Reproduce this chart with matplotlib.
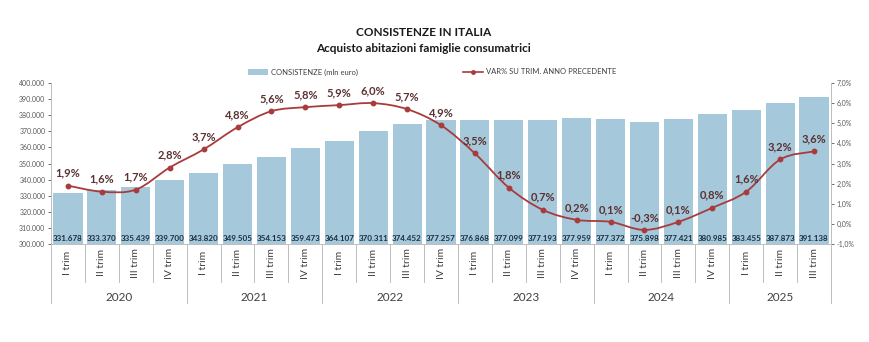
import matplotlib
matplotlib.use("Agg")
import matplotlib.pyplot as plt
from matplotlib.path import Path
from matplotlib.patches import PathPatch, Patch
from matplotlib.lines import Line2D
import matplotlib.ticker as ticker
import matplotlib.transforms as mtransforms

plt.rcParams["font.family"] = ["Lato", "DejaVu Sans"]

# dati
anni = ["2020", "2021", "2022", "2023", "2024", "2025"]
trimestri = ["I trim", "II trim", "III trim", "IV trim"] * 5 + ["I trim", "II trim", "III trim"]
consistenze = [331678, 333370, 335439, 339700, 343820, 349505, 354153, 359473,
               364107, 370311, 374452, 377257, 376868, 377099, 377193, 377959,
               377372, 375898, 377421, 380985, 383455, 387873, 391138]
var_pct = [1.9, 1.6, 1.7, 2.8, 3.7, 4.8, 5.6, 5.8, 5.9, 6.0, 5.7, 4.9,
           3.5, 1.8, 0.7, 0.2, 0.1, -0.3, 0.1, 0.8, 1.6, 3.2, 3.6]
trim_per_anno = [4, 4, 4, 4, 4, 3]

BAR_C = "#a5c8db"
LINE_C = "#a83b3b"
GRID_C = "#bfbfbf"
TXT_C = "#404040"

n = len(consistenze)
x = list(range(n))

fig = plt.figure(figsize=(8.69, 3.42), dpi=100)
fig.patch.set_facecolor("white")
ax = fig.add_axes([51 / 869, 1 - 244 / 342, (831 - 51) / 869, (244 - 83) / 342])
ax2 = ax.twinx()

ax.bar(x, consistenze, width=0.86, color=BAR_C, zorder=2)
ax.set_ylim(300000, 400000)
ax.set_xlim(-0.5, n - 0.5)
ax.yaxis.set_major_locator(ticker.MultipleLocator(10000))
ax.yaxis.set_major_formatter(ticker.FuncFormatter(lambda v, p: f"{int(v):,}".replace(",", ".")))
ax.set_xticks([])
ax.tick_params(axis="y", labelsize=5, colors="#595959", length=2, width=0.6, pad=2)

for i, v in enumerate(consistenze):
    ax.text(i, 301300, f"{v:,}".replace(",", "."), ha="center", va="bottom",
            fontsize=5.8, fontweight="bold", color="#1a2e3e", zorder=3)

# linea smussata (stile excel)
pts = list(zip(x, var_pct))
verts = [pts[0]]
codes = [Path.MOVETO]
for i in range(n - 1):
    p0 = pts[i - 1] if i > 0 else pts[i]
    p1 = pts[i]
    p2 = pts[i + 1]
    p3 = pts[i + 2] if i + 2 < n else pts[i + 1]
    c1 = (p1[0] + (p2[0] - p0[0]) / 6, p1[1] + (p2[1] - p0[1]) / 6)
    c2 = (p2[0] - (p3[0] - p1[0]) / 6, p2[1] - (p3[1] - p1[1]) / 6)
    verts += [c1, c2, p2]
    codes += [Path.CURVE4] * 3
ax2.add_patch(PathPatch(Path(verts, codes), fill=False, edgecolor=LINE_C, lw=1.3, zorder=4))
ax2.plot(x, var_pct, "o", color=LINE_C, ms=3.2, zorder=5)

for i, v in enumerate(var_pct):
    ax2.annotate(f"{v:.1f}%".replace(".", ","), (i, v), xytext=(0, 5),
                 textcoords="offset points", ha="center", va="bottom",
                 fontsize=8, fontweight="bold", color="#5b3131", zorder=6)

ax2.set_ylim(-1, 7)
ax2.yaxis.set_major_locator(ticker.MultipleLocator(1))
ax2.yaxis.set_major_formatter(ticker.FuncFormatter(lambda v, p: f"{v:.1f}%".replace(".", ",")))
ax2.tick_params(axis="y", labelsize=5, colors="#595959", length=2, width=0.6, pad=2)

for a in (ax, ax2):
    a.spines["top"].set_visible(False)
    for s in ("left", "right", "bottom"):
        a.spines[s].set_color(GRID_C)
        a.spines[s].set_linewidth(0.7)

# etichette categorie sotto l'asse
trans = mtransforms.blended_transform_factory(ax.transData, ax.transAxes)
for i, t in enumerate(trimestri):
    ax.text(i, -0.118, t, transform=trans, rotation=90, ha="center", va="center",
            fontsize=7.5, color=TXT_C)

confini = [-0.5]
for k in trim_per_anno:
    confini.append(confini[-1] + k)
for b in range(n + 1):
    xb = b - 0.5
    y_low = -0.366 if xb in confini else -0.236
    ax.plot([xb, xb], [0, y_low], transform=trans, color=GRID_C, lw=0.7, clip_on=False)
for j, anno in enumerate(anni):
    xc = (confini[j] + confini[j + 1]) / 2
    ax.text(xc, -0.33, anno, transform=trans, ha="center", va="center",
            fontsize=8.5, color=TXT_C)

# titolo
fig.text(0.487, 1 - 33 / 342, "CONSISTENZE IN ITALIA", ha="center", va="center",
         fontsize=8.5, fontweight="bold", color="#1a1a1a")
fig.text(0.487, 1 - 48 / 342, "Acquisto abitazioni famiglie consumatrici", ha="center",
         va="center", fontsize=8.5, fontweight="bold", color="#1a1a1a")

# legenda
handles = [Patch(facecolor=BAR_C, edgecolor="none"),
           Line2D([0], [0], color=LINE_C, lw=1.2, marker="o", ms=2.5)]
fig.legend(handles, ["CONSISTENZE (mln euro)", "VAR% SU TRIM. ANNO PRECEDENTE"],
           loc="center left", bbox_to_anchor=(248 / 869, 1 - 72 / 342), ncol=2,
           frameon=False, fontsize=5.5, labelcolor=TXT_C, columnspacing=13.8,
           handlelength=2.6, handleheight=0.8, handletextpad=0.4, borderpad=0, borderaxespad=0)

fig.savefig("out.png", dpi=100, facecolor="white")
